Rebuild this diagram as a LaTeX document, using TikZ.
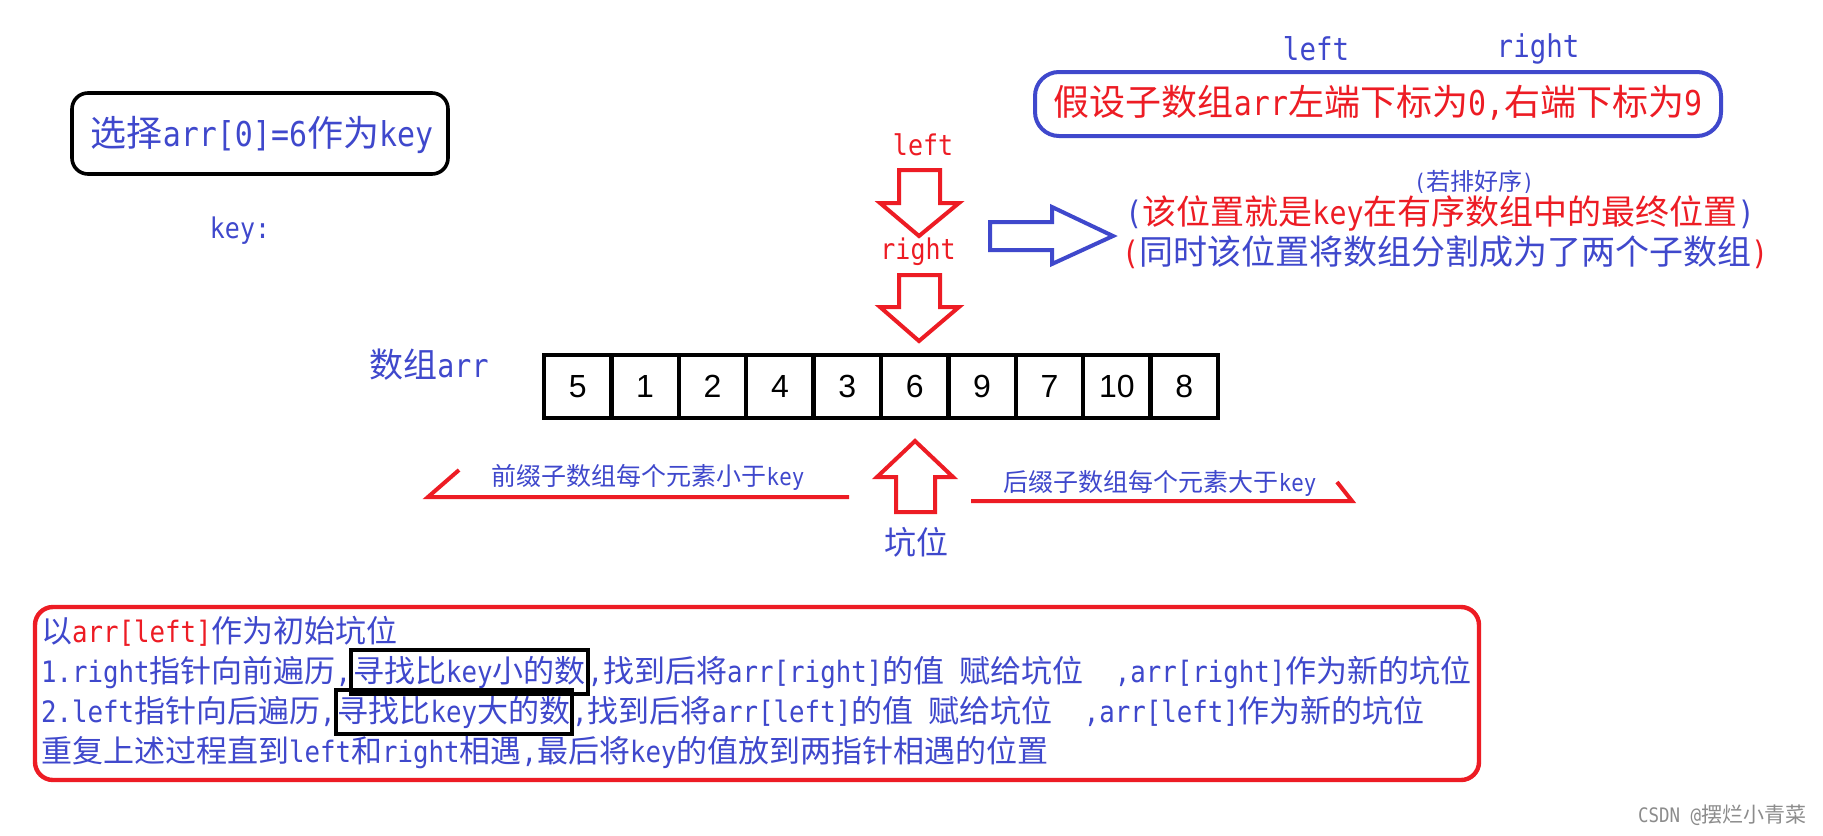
\documentclass[tikz,border=0pt]{standalone}
\usepackage{fontspec}
\setmainfont{DejaVu Sans Mono}[Scale=0.95, FakeStretch=0.875]
\newfontfamily\cjkfont{Noto Sans CJK SC}
\newfontfamily\digitfont{Liberation Sans}
\XeTeXinterchartokenstate=1
\newXeTeXintercharclass\CJKcls
\newcount\cjkcc
\def\setcjkrange#1#2{\cjkcc=#1 \loop\XeTeXcharclass\cjkcc=\CJKcls \ifnum\cjkcc<#2 \advance\cjkcc by 1 \repeat}
\setcjkrange{"4E00}{"9FFF}
\setcjkrange{"3000}{"303F}
\setcjkrange{"FF00}{"FFEF}
\XeTeXinterchartoks 0 \CJKcls={\begingroup\cjkfont}
\XeTeXinterchartoks 4095 \CJKcls={\begingroup\cjkfont}
\XeTeXinterchartoks \CJKcls 0={\endgroup}
\XeTeXinterchartoks \CJKcls 4095={\endgroup}
\newcommand\myfs[1]{\fontsize{#1}{#1}\selectfont}
\definecolor{cB}{RGB}{63,72,204}
\definecolor{cR}{RGB}{237,28,36}
\tikzset{
  txt/.style={inner sep=0pt, outer sep=0pt},
  redarrow/.style={draw=cR, line width=2pt, line join=miter},
  bluearrow/.style={draw=cB, line width=2pt, line join=miter},
  redline/.style={draw=cR, line width=2pt},
  cell/.style={draw=black, line width=2.2pt, minimum width=33.7pt, minimum height=31.5pt, inner sep=0pt, font=\digitfont\myfs{16}},
  hl/.style={draw=black, line width=2pt, inner xsep=1pt, inner ysep=3pt, outer sep=0pt}
}
\begin{document}
\begin{tikzpicture}[x=0.5pt,y=-0.5pt]
\fill[white] (0,0) rectangle (1823,835);
\useasboundingbox (0,0) rectangle (1823,835);

% key box
\node[draw=black, line width=1.8pt, rounded corners=8pt, minimum width=188pt, minimum height=40.5pt, inner sep=0pt] (keybox) at (260,133.5) {};
\node[txt, text=cB, font=\myfs{18}] (keytext) at (262,135) {选择arr[0]=6作为key};
\node[txt, text=cB, font=\myfs{15}] (keylbl) at (240,231) {key:};

% top right
\node[txt, text=cB, font=\myfs{16.5}] (topleft) at (1316,49) {left};
\node[txt, text=cB, font=\myfs{16.5}] (topright) at (1538,49) {right};
\node[draw=cB, line width=2pt, rounded corners=12pt, minimum width=343pt, minimum height=32pt, inner sep=0pt] (bluebox) at (1378,104) {};
\node[txt, text=cR, font=\myfs{18}] (boxtext) at (1378,103) {假设子数组arr左端下标为0,右端下标为9};

% pointers
\node[txt, text=cR, font=\myfs{15}] (leftptr) at (923,145) {left};
\node[txt, text=cR, font=\myfs{15}] (rightptr) at (918,252) {right};
\draw[redarrow] (899,170) -- (940,170) -- (940,203) -- (959,203) -- (919,236) -- (880,203) -- (899,203) -- cycle;
\draw[redarrow] (899,275) -- (940,275) -- (940,307) -- (959,307) -- (919,341) -- (880,307) -- (899,307) -- cycle;
\draw[bluearrow] (990,222) -- (1052,222) -- (1052,207) -- (1113,236) -- (1052,264) -- (1052,250) -- (990,250) -- cycle;

\node[txt, text=cB, font=\myfs{12}] (sortnote) at (1474,182) {(若排好序)};
\node[txt, text=cR, font=\myfs{17}] (final) at (1440,213) {\textcolor{cB}{(}该位置就是key在有序数组中的最终位置\textcolor{cB}{)}};
\node[txt, text=cB, font=\myfs{17}] (split) at (1445,252) {\textcolor{cR}{(}同时该位置将数组分割成为了两个子数组\textcolor{cR}{)}};

% array
\node[txt, text=cB, font=\myfs{17}] (arrlbl) at (429,365) {数组arr};
\foreach \v [count=\i] in {5,1,2,4,3,6,9,7,10,8} {
  \node[cell] (c\i) at ({544+67.4*(\i-0.5)},386.5) {\v};
}

% pit arrow and lines
\draw[redarrow] (915,441) -- (953,477) -- (935,477) -- (935,512) -- (896,512) -- (896,477) -- (877,477) -- cycle;
\coordinate (la) at (849,497);
\coordinate (lb) at (428,497);
\coordinate (lc) at (459,470);
\draw[redline] (la) -- (lb) -- (lc);
\coordinate (ra) at (971,501);
\coordinate (rb) at (1352,501);
\coordinate (rc) at (1337,482);
\draw[redline] (ra) -- (rb) -- (rc);
\node[txt, text=cB, font=\myfs{12.5}] (prefix) at (648,477) {前缀子数组每个元素小于key};
\node[txt, text=cB, font=\myfs{12.5}] (suffix) at (1160,483) {后缀子数组每个元素大于key};
\node[txt, text=cB, font=\myfs{16}] (pit) at (916,542) {坑位};

% bottom box
\node[draw=cR, line width=2.2pt, rounded corners=9pt, minimum width=722pt, minimum height=86.5pt, inner sep=0pt] (redbox) at (757,693.5) {};
\node[txt, anchor=base west, text=cB, font=\myfs{15.5}] (l1) at (41,642) {以\textcolor{cR}{arr[left]}作为初始坑位};
\node[txt, anchor=base west, text=cB, font=\myfs{15.5}] (l2a) at (41,682) {1.right指针向前遍历,};
\node[hl, anchor=base west, text=cB, font=\myfs{15.5}] (l2b) at (l2a.base east) {寻找比key小的数};
\node[txt, anchor=base west, text=cB, font=\myfs{15.5}] (l2c) at (l2b.base east) {,找到后将arr[right]的值 赋给坑位\ \ ,arr[right]作为新的坑位};
\node[txt, anchor=base west, text=cB, font=\myfs{15.5}] (l3a) at (41,722) {2.left指针向后遍历,};
\node[hl, anchor=base west, text=cB, font=\myfs{15.5}] (l3b) at (l3a.base east) {寻找比key大的数};
\node[txt, anchor=base west, text=cB, font=\myfs{15.5}] (l3c) at (l3b.base east) {,找到后将arr[left]的值 赋给坑位\ \ ,arr[left]作为新的坑位};
\node[txt, anchor=base west, text=cB, font=\myfs{15.5}] (l4) at (41,762) {重复上述过程直到left和right相遇,最后将key的值放到两指针相遇的位置};

\node[txt, text=black!45, font=\myfs{10.5}] (wm) at (1722,815) {CSDN @摆烂小青菜};
\end{tikzpicture}
\end{document}
